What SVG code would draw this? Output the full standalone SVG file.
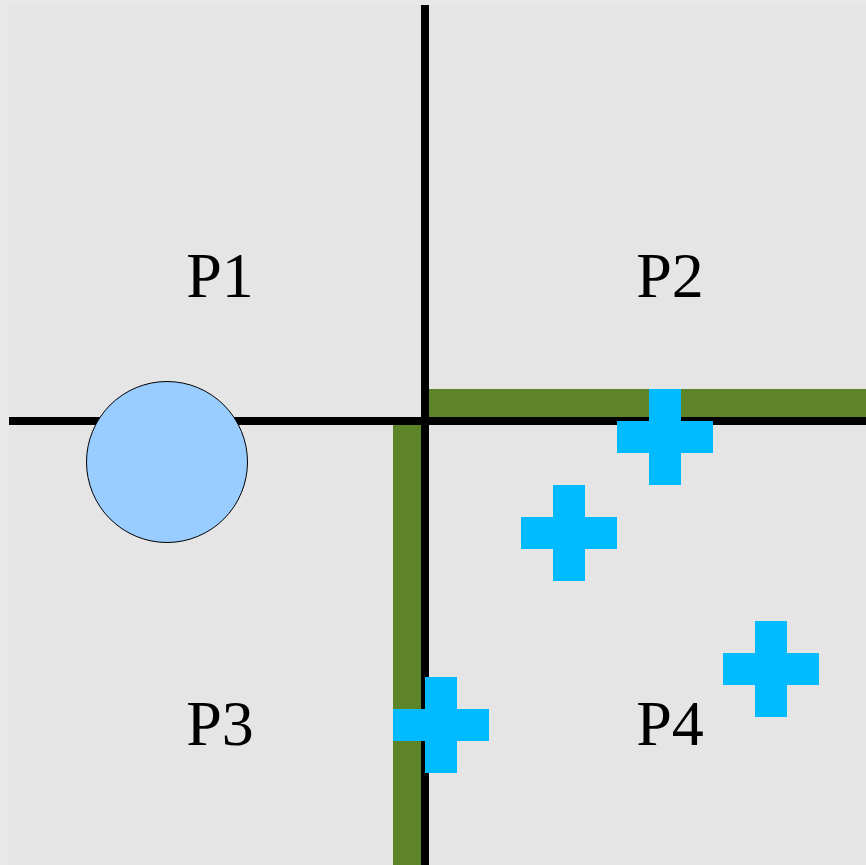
<svg xmlns="http://www.w3.org/2000/svg" width="866" height="865" viewBox="0 0 866 865">
  <style>
    .lbl { font-family: "Liberation Serif", "Times New Roman", serif; font-size: 64px; fill: #000; text-anchor: middle; }
    .wall { fill: #5d8427; }
    .axis { stroke: #000; stroke-width: 8; fill: none; }
    .cross { fill: #00bbff; }
  </style>
  <defs>
    <path id="plus" d="M-16,-48 H16 V-16 H48 V16 H16 V48 H-16 V16 H-48 V-16 H-16 Z"/>
  </defs>
  <g id="background">
    <rect x="0" y="0" width="866" height="865" fill="#e8e8e8"/>
    <rect x="9" y="5" width="857" height="860" fill="#e5e5e5"/>
  </g>
  <g id="walls">
    <rect class="wall" x="429" y="389" width="437" height="28"/>
    <rect class="wall" x="393" y="425" width="28" height="440"/>
  </g>
  <g id="connectors">
    <line class="axis" x1="425" y1="5" x2="425" y2="865"/>
    <line class="axis" x1="9" y1="421" x2="866" y2="421"/>
  </g>
  <g id="circle">
    <circle cx="167" cy="462" r="80.5" fill="#99ccff" stroke="#000" stroke-width="1"/>
  </g>
  <g id="crosses">
    <use href="#plus" class="cross" x="665" y="437"/>
    <use href="#plus" class="cross" x="569" y="533"/>
    <use href="#plus" class="cross" x="771" y="669"/>
    <use href="#plus" class="cross" x="441" y="725"/>
  </g>
  <g id="P1"><text class="lbl" x="220" y="297">P1</text></g>
  <g id="P2"><text class="lbl" x="670" y="297">P2</text></g>
  <g id="P3"><text class="lbl" x="220" y="745">P3</text></g>
  <g id="P4"><text class="lbl" x="670" y="745">P4</text></g>
</svg>
